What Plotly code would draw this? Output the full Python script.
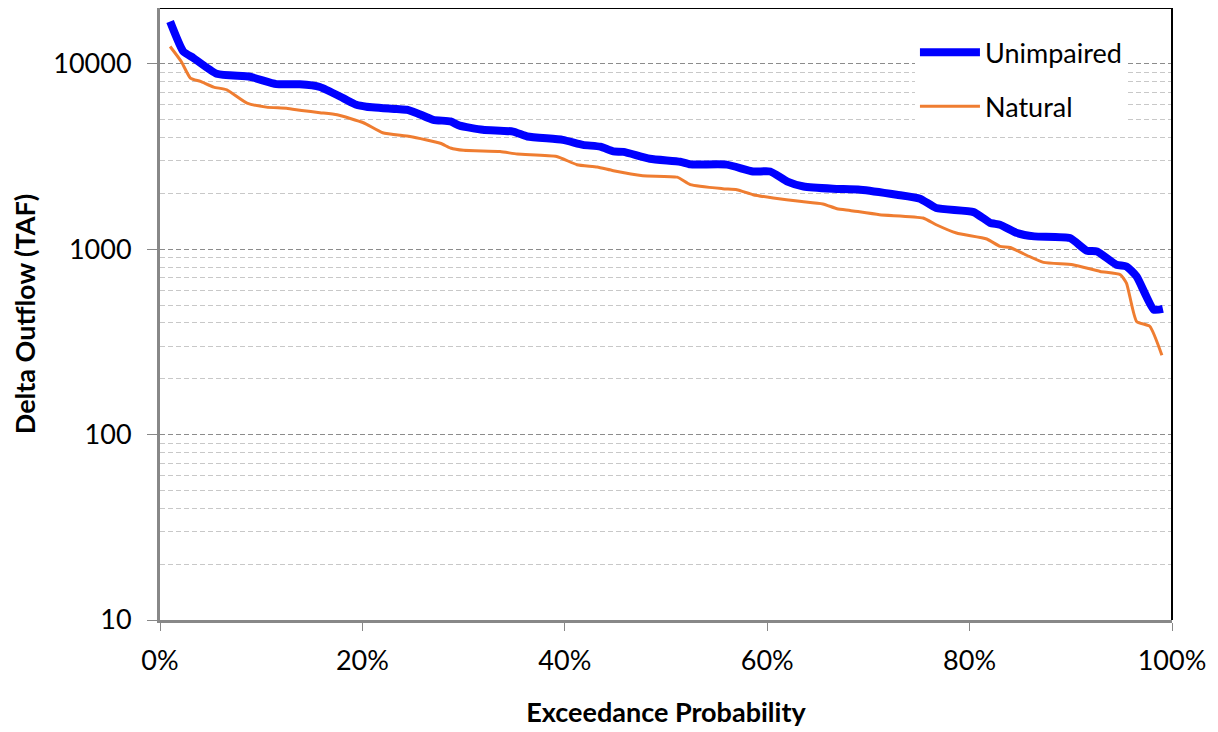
import plotly.graph_objects as go

# Exceedance probability (%) and Delta outflow (TAF)
unimp_prob = [1.0, 2.3, 3.3, 5.6, 8.9, 11.5, 13.8, 15.8, 18.1, 19.4, 20.4, 23.4, 24.4,
              25.4, 27.0, 28.7, 29.6, 31.9, 34.9, 36.3, 39.8, 41.8, 43.5, 44.8, 45.8,
              48.4, 51.4, 52.4, 56.0, 58.6, 60.3, 62.0, 63.6, 66.5, 69.2, 72.8, 75.1,
              76.7, 80.4, 82.0, 83.0, 84.7, 86.4, 89.9, 91.6, 92.6, 94.5, 95.5, 96.5,
              98.2, 99.1]
unimp_taf = [16900, 11650, 10750, 8840, 8510, 7770, 7750, 7500, 6530, 6010, 5870, 5700, 5650,
             5420, 4990, 4890, 4640, 4410, 4310, 4055, 3890, 3656, 3573, 3370, 3350,
             3075, 2963, 2867, 2860, 2625, 2625, 2317, 2180, 2120, 2094, 1968, 1873,
             1668, 1585, 1390, 1355, 1222, 1173, 1148, 981, 973, 825, 807, 713,
             472, 477]

natural_prob = [1.0, 2.1, 3.0, 4.0, 5.3, 6.6, 8.6, 10.5, 12.5, 14.0, 15.8, 17.5, 20.1,
                22.0, 24.7, 27.7, 28.7, 30.0, 33.6, 35.3, 39.2, 41.2, 43.2, 44.8, 47.7,
                51.1, 52.4, 55.6, 57.0, 58.6, 60.6, 63.2, 65.5, 66.9, 68.2, 71.1, 75.4,
                76.7, 78.7, 81.7, 83.0, 84.0, 85.3, 87.3, 90.2, 92.9, 94.9, 95.5, 96.5,
                97.8, 99.0]
natural_taf = [12400, 10290, 8380, 8040, 7490, 7240, 6140, 5840, 5760, 5600, 5450, 5310, 4810,
               4250, 4055, 3730, 3514, 3414, 3366, 3258, 3163, 2857, 2776, 2650, 2490,
               2447, 2229, 2120, 2094, 1968, 1888, 1812, 1755, 1653, 1618, 1535, 1473,
               1355, 1222, 1135, 1036, 1022, 946, 849, 825, 759, 728, 657, 408,
               384, 268]

y_ticks = [10, 100, 1000, 10000]
x_ticks = [0, 0.2, 0.4, 0.6, 0.8, 1.0]

FONT = "Lato"

fig = go.Figure()

fig.add_trace(go.Scatter(
    x=[p / 100 for p in unimp_prob], y=unimp_taf, name="Unimpaired", mode="lines",
    line=dict(color="#0000FF", width=8, shape="spline", smoothing=0.5),
    legendgroup="a",
))
fig.add_trace(go.Scatter(
    x=[p / 100 for p in natural_prob], y=natural_taf, name="Natural", mode="lines",
    line=dict(color="#EF7D31", width=3, shape="spline", smoothing=0.5),
    legendgroup="b",
))

# black frame on top and right like the Excel plot area
fig.add_shape(type="line", xref="paper", yref="paper", x0=0, x1=1, y0=1, y1=1,
              line=dict(color="black", width=2))
fig.add_shape(type="line", xref="paper", yref="paper", x0=1, x1=1, y0=0, y1=1,
              line=dict(color="black", width=2))

fig.update_xaxes(
    range=[0, 1], tickvals=x_ticks, tickformat=".0%",
    showgrid=False, zeroline=False,
    showline=True, linecolor="#888888", linewidth=3,
    ticks="outside", ticklen=8, tickcolor="#888888", tickwidth=1,
    ticklabelstandoff=7,
    tickfont=dict(family=FONT, size=27, color="black"),
    title=dict(text="Exceedance Probability", standoff=28,
               font=dict(family=FONT, size=27, color="black", weight="bold")),
)
fig.update_yaxes(
    type="log", range=[1, 4.30103], tickvals=y_ticks, tickformat="d",
    showgrid=True, gridcolor="#8c8c8c", griddash="5px,3px", gridwidth=1,
    minor=dict(dtick="D1", showgrid=True, gridcolor="#c8c8c8", griddash="5px,3px",
               gridwidth=1, ticks=""),
    zeroline=False,
    showline=True, linecolor="#888888", linewidth=3,
    ticks="outside", ticklen=10, tickcolor="#888888", tickwidth=1,
    ticklabelstandoff=10,
    tickfont=dict(family=FONT, size=27, color="black"),
    title=dict(text="Delta Outflow (TAF)", standoff=12,
               font=dict(family=FONT, size=27, color="black", weight="bold")),
)

# the page adds an 8px body margin, so the figure is sized to leave for it
fig.update_layout(
    width=1210, height=724,
    margin=dict(l=152, r=46, t=0, b=112),
    plot_bgcolor="white", paper_bgcolor="white",
    showlegend=True,
    legend=dict(x=0.746, y=0.967, xanchor="left", yanchor="top",
                bgcolor="white", borderwidth=0,
                traceorder="grouped", tracegroupgap=16, itemwidth=60,
                font=dict(family=FONT, size=27, color="black")),
)

fig.write_html("out.html")
